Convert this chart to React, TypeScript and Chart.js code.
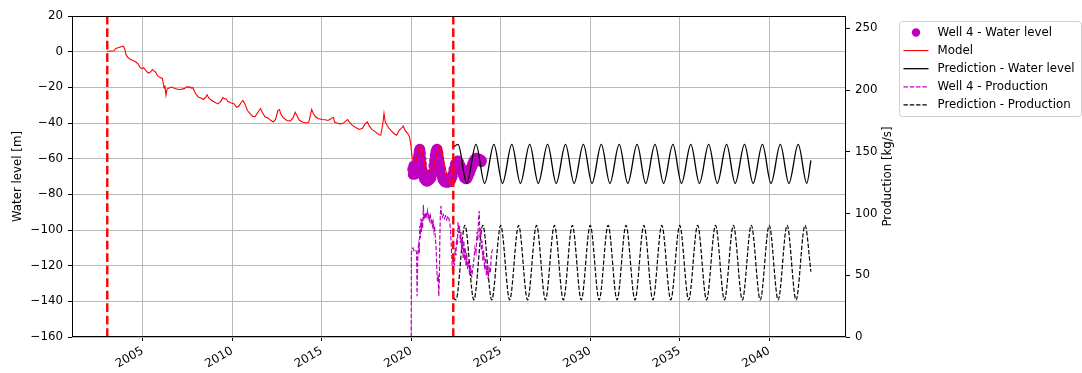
import React, { useEffect, useRef } from 'react';
import { Chart, registerables } from 'chart.js';
Chart.register(...registerables);

// ---------- data ----------
const xTicks = [2005, 2010, 2015, 2020, 2025, 2030, 2035, 2040];
const leftTicks = [-160, -140, -120, -100, -80, -60, -40, -20, 0, 20];
const rightTicks = [0, 50, 100, 150, 200, 250];

// model water level (decimal year, m)
const modelX = [
  2003.00, 2003.05, 2003.40, 2003.50, 2003.70, 2003.92, 2004.00, 2004.06, 2004.15, 2004.30,
  2004.45, 2004.62, 2004.75, 2004.85, 2004.95, 2005.05, 2005.15, 2005.30, 2005.42, 2005.55,
  2005.62, 2005.72, 2005.82, 2005.95, 2006.10, 2006.16, 2006.20, 2006.24, 2006.30, 2006.36,
  2006.45, 2006.60, 2006.80, 2007.00, 2007.20, 2007.35, 2007.48, 2007.55, 2007.62, 2007.72,
  2007.80, 2007.95, 2008.10, 2008.25, 2008.40, 2008.52, 2008.60, 2008.68, 2008.80, 2009.00,
  2009.20, 2009.35, 2009.48, 2009.56, 2009.65, 2009.75, 2009.95, 2010.10, 2010.25, 2010.38,
  2010.50, 2010.60, 2010.70, 2010.85, 2011.00, 2011.15, 2011.28, 2011.40, 2011.58, 2011.68,
  2011.83, 2012.00, 2012.15, 2012.30, 2012.42, 2012.55, 2012.64, 2012.72, 2012.85, 2013.05,
  2013.25, 2013.40, 2013.52, 2013.60, 2013.75, 2013.95, 2014.10, 2014.28, 2014.38, 2014.44,
  2014.52, 2014.65, 2014.80, 2015.00, 2015.20, 2015.35, 2015.50, 2015.60, 2015.66, 2015.72,
  2015.85, 2016.05, 2016.20, 2016.35, 2016.45, 2016.55, 2016.70, 2016.90, 2017.10, 2017.28,
  2017.42, 2017.55, 2017.65, 2017.80, 2018.00, 2018.20, 2018.30, 2018.42, 2018.48, 2018.55,
  2018.70, 2018.85, 2019.05, 2019.19, 2019.30, 2019.40, 2019.56, 2019.65, 2019.80, 2019.90,
  2019.97, 2020.05, 2020.12, 2020.21, 2020.30, 2020.38, 2020.45, 2020.53, 2020.60, 2020.68,
  2020.76, 2020.83, 2020.95, 2021.05, 2021.15, 2021.23, 2021.35, 2021.46, 2021.61, 2021.70,
  2021.79, 2021.90, 2021.98, 2022.08, 2022.17, 2022.26, 2022.35,
];
const modelY = [
  0, 0.2, 0.5, 1.8, 2.5, 3.1, 1.5, -1.5, -3.0, -4.3,
  -5.0, -5.8, -7.0, -8.8, -9.5, -9.0, -10.2, -12.0, -11.5, -10.0,
  -10.8, -11.4, -13.5, -14.4, -15.0, -18.5, -20.5, -19.0, -24.4, -21.0,
  -20.5, -19.8, -20.6, -21.2, -21.0, -20.6, -19.5, -20.2, -19.6, -20.4,
  -20.2, -23.5, -25.4, -26.0, -26.8, -25.5, -24.2, -25.8, -27.0, -28.2,
  -29.3, -28.0, -25.8, -26.5, -26.3, -27.8, -28.8, -29.2, -31.2, -30.5,
  -28.5, -27.3, -29.0, -33.0, -34.8, -36.3, -36.5, -34.5, -31.9, -34.0,
  -36.5, -37.2, -38.5, -39.4, -38.0, -33.0, -32.5, -35.0, -37.0, -38.6,
  -38.8, -37.0, -34.0, -35.5, -38.5, -39.6, -40.0, -39.5, -35.0, -32.4,
  -34.5, -36.5, -37.5, -38.0, -38.2, -38.6, -37.8, -37.0, -36.9, -39.5,
  -40.0, -40.5, -40.2, -38.8, -38.0, -39.5, -41.2, -42.5, -43.6, -43.0,
  -40.5, -39.4, -41.5, -43.6, -45.0, -46.6, -46.8, -40.0, -34.6, -39.5,
  -42.1, -44.0, -46.0, -46.8, -44.5, -43.5, -41.7, -44.0, -45.8, -47.5,
  -51.5, -59.0, -61.0, -61.6, -60.5, -56.5, -54.1, -53.1, -55.5, -59.7,
  -64.0, -66.2, -67.0, -67.2, -66.5, -65.3, -60.5, -56.0, -53.1, -55.0,
  -59.7, -65.0, -69.0, -72.0, -73.7, -72.8, -72.0,
];

// observed water level, well 4
const wellLevelX = [
  2020.06, 2020.09, 2020.12, 2020.15, 2020.18, 2020.21, 2020.24, 2020.27, 2020.30, 2020.33,
  2020.36, 2020.39, 2020.42, 2020.45, 2020.48, 2020.51, 2020.54, 2020.57, 2020.60, 2020.63,
  2020.66, 2020.69, 2020.72, 2020.76, 2020.80, 2020.84, 2020.88, 2020.92, 2020.96, 2021.00,
  2021.04, 2021.08, 2021.12, 2021.16, 2021.20, 2021.24, 2021.28, 2021.32, 2021.36, 2021.40,
  2021.44, 2021.48, 2021.52, 2021.56, 2021.60, 2021.64, 2021.68, 2021.72, 2021.76, 2021.80,
  2021.84, 2021.88, 2021.92, 2021.96, 2022.00, 2022.04, 2022.08, 2022.12, 2022.16, 2022.20,
  2022.24, 2022.28, 2022.32, 2022.36, 2022.40, 2022.44, 2022.48, 2022.52, 2022.56, 2022.60,
  2022.64, 2022.68, 2022.72, 2022.76, 2022.80, 2022.84, 2022.88, 2022.92, 2022.96, 2023.00,
  2023.04, 2023.08, 2023.12, 2023.16, 2023.20, 2023.24, 2023.28, 2023.32, 2023.36, 2023.40,
  2023.44, 2023.48, 2023.52, 2023.56, 2023.60, 2023.64, 2023.68, 2023.72, 2023.76, 2023.80,
  2023.84, 2023.88, 2023.92, 2023.95,
];
const wellLevelY = [
  -66, -69, -64, -68, -66, -69, -65, -68, -64, -62,
  -60, -58, -56, -55, -54.5, -55, -57, -60, -63, -66,
  -68, -70, -71.5, -70, -72.5, -71, -73, -71.5, -72.5, -71,
  -72, -70, -71, -68, -68.5, -64, -61, -58, -56, -55,
  -54.5, -55, -57, -60, -63, -66, -69, -70.5, -72, -71,
  -73, -71.5, -73.5, -72, -73.5, -72, -73.5, -71.5, -73, -71,
  -72, -69, -70, -66, -67, -63, -65, -62, -64, -61,
  -63, -62, -65, -64, -67, -66, -69, -68, -71, -70,
  -71.5, -70.5, -71.5, -69.5, -70, -67, -68, -65, -66, -63,
  -64, -61, -62, -60, -61, -59.5, -60.5, -60, -61, -60,
  -61.5, -60.5, -62, -61,
];

// prediction water level
const predLevelX = [
  2022.35, 2022.62, 2023.10, 2023.62, 2024.10, 2024.62, 2025.10, 2025.62, 2026.10, 2026.62,
  2027.10, 2027.62, 2028.10, 2028.62, 2029.10, 2029.62, 2030.10, 2030.62, 2031.10, 2031.62,
  2032.10, 2032.62, 2033.10, 2033.62, 2034.10, 2034.62, 2035.10, 2035.62, 2036.10, 2036.62,
  2037.10, 2037.62, 2038.10, 2038.62, 2039.10, 2039.62, 2040.10, 2040.62, 2041.10, 2041.62,
  2042.10, 2042.33,
];
const predLevelY = [
  -53.5, -52, -73.8, -52, -73.8, -52, -73.8, -52, -73.8, -52,
  -73.8, -52, -73.8, -52, -73.8, -52, -73.8, -52, -73.8, -52,
  -73.8, -52, -73.8, -52, -73.8, -52, -73.8, -52, -73.8, -52,
  -73.8, -52, -73.8, -52, -73.8, -52, -73.8, -52, -73.8, -52,
  -73.8, -61,
];

// observed production, well 4 (kg/s)
const wellProdX = [
  2020.00, 2020.01, 2020.05, 2020.10, 2020.15, 2020.20, 2020.26, 2020.30, 2020.33, 2020.36,
  2020.39, 2020.42, 2020.45, 2020.48, 2020.51, 2020.54, 2020.57, 2020.60, 2020.64, 2020.68,
  2020.71, 2020.75, 2020.79, 2020.83, 2020.87, 2020.91, 2020.95, 2020.99, 2021.03, 2021.07,
  2021.11, 2021.15, 2021.19, 2021.23, 2021.27, 2021.31, 2021.35, 2021.39, 2021.43, 2021.47,
  2021.51, 2021.54, 2021.57, 2021.60, 2021.63, 2021.66, 2021.70, 2021.75, 2021.80, 2021.86,
  2021.92, 2021.98, 2022.04, 2022.10, 2022.16, 2022.20, 2022.25, 2022.30, 2022.35, 2022.38,
  2022.42, 2022.46, 2022.50, 2022.54, 2022.58, 2022.62, 2022.66, 2022.70, 2022.74, 2022.78,
  2022.82, 2022.86, 2022.90, 2022.94, 2022.98, 2023.02, 2023.06, 2023.10, 2023.14, 2023.20,
  2023.26, 2023.32, 2023.38, 2023.44, 2023.50, 2023.56, 2023.62, 2023.68, 2023.72, 2023.76,
  2023.80, 2023.84, 2023.88, 2023.92, 2023.96, 2024.00, 2024.05, 2024.10, 2024.15, 2024.20,
  2024.25, 2024.30, 2024.35, 2024.42, 2024.48, 2024.55,
];
const wellProdY = [
  0, 68, 71, 72, 70, 71, 70, 69, 33, 60,
  72, 75, 68, 90, 80, 96, 85, 95, 88, 107,
  95, 100, 96, 101, 98, 102, 97, 100, 95, 98,
  93, 96, 90, 93, 86, 90, 80, 72, 55, 45,
  50, 33, 45, 80, 100, 106, 99, 97, 99, 96,
  98, 95, 98, 96, 92, 86, 70, 55, 50, 62,
  58, 72, 66, 80, 75, 93, 84, 90, 76, 85,
  70, 80, 64, 78, 62, 72, 58, 68, 55, 62,
  50, 58, 48, 56, 62, 72, 68, 85, 78, 95,
  102, 80, 88, 70, 78, 62, 70, 55, 64, 50,
  58, 47, 56, 52, 68, 71,
];

// prediction production (kg/s)
const predProdX = [
  2022.35, 2022.50, 2023.00, 2023.50, 2024.00, 2024.50, 2025.00, 2025.50, 2026.00, 2026.50,
  2027.00, 2027.50, 2028.00, 2028.50, 2029.00, 2029.50, 2030.00, 2030.50, 2031.00, 2031.50,
  2032.00, 2032.50, 2033.00, 2033.50, 2034.00, 2034.50, 2035.00, 2035.50, 2036.00, 2036.50,
  2037.00, 2037.50, 2038.00, 2038.50, 2039.00, 2039.50, 2040.00, 2040.50, 2041.00, 2041.50,
  2042.00, 2042.33,
];
const predProdY = [
  32, 30, 90.5, 30, 90.5, 30, 90.5, 30, 90.5, 30,
  90.5, 30, 90.5, 30, 90.5, 30, 90.5, 30, 90.5, 30,
  90.5, 30, 90.5, 30, 90.5, 30, 90.5, 30, 90.5, 30,
  90.5, 30, 90.5, 30, 90.5, 30, 90.5, 30, 90.5, 30,
  90.5, 53,
];

// dashed red vertical markers (decimal year)
const markerYears = [2003.02, 2022.35];
const leftRange = [-160, 20];
const rightRange = [0, 260];
const xRange = [2001.05, 2044.29];

const leftTitle = 'Water level [m]';
const rightTitle = 'Production [kg/s]';

const FONT = "'DejaVu Sans', 'Liberation Sans', sans-serif";
const FS = 11.8;
const MAG = '#bf00bf';

const pts = (xs: number[], ys: number[]) => xs.map((x, i) => ({ x, y: ys[i] }));
const fmt = (v: number) => (v < 0 ? '\u2212' + Math.abs(v) : String(v));

const framePlugin = {
  id: 'frame',
  afterDatasetsDraw(chart: any) {
    const { ctx, chartArea } = chart;
    const l = Math.round(chartArea.left) + 0.5;
    const t = Math.round(chartArea.top) + 0.5;
    const r = Math.round(chartArea.right) - 0.5;
    const b = Math.round(chartArea.bottom) - 0.5;
    ctx.save();
    ctx.strokeStyle = '#000';
    ctx.lineWidth = 1;
    ctx.strokeRect(l, t, r - l, b - t);
    ctx.restore();
  },
};

const extrasPlugin = {
  id: 'extras',
  afterDraw(chart: any) {
    const { ctx, chartArea } = chart;
    ctx.save();
    // right axis title
    ctx.font = `${FS}px ${FONT}`;
    ctx.fillStyle = '#000';
    ctx.textAlign = 'center';
    ctx.textBaseline = 'middle';
    ctx.translate(888, (chartArea.top + chartArea.bottom) / 2);
    ctx.rotate(-Math.PI / 2);
    ctx.fillText(rightTitle, 0, 0);
    ctx.restore();

    // legend
    const items = chart.data.datasets.filter((d: any) => d.label && !d.noLegend);
    const bx = 899.5, by = 21.5, bw = 182, bh = 95;
    ctx.save();
    ctx.fillStyle = 'rgba(255,255,255,0.8)';
    ctx.strokeStyle = '#d0d0d0';
    ctx.lineWidth = 1;
    ctx.beginPath();
    const rr = 3;
    ctx.moveTo(bx + rr, by);
    ctx.lineTo(bx + bw - rr, by);
    ctx.arcTo(bx + bw, by, bx + bw, by + rr, rr);
    ctx.lineTo(bx + bw, by + bh - rr);
    ctx.arcTo(bx + bw, by + bh, bx + bw - rr, by + bh, rr);
    ctx.lineTo(bx + rr, by + bh);
    ctx.arcTo(bx, by + bh, bx, by + bh - rr, rr);
    ctx.lineTo(bx, by + rr);
    ctx.arcTo(bx, by, bx + rr, by, rr);
    ctx.closePath();
    ctx.fill();
    ctx.stroke();
    items.forEach((d: any, i: number) => {
      const cy = 32.5 + i * 18.1;
      const x0 = 903.5, x1 = 928.5;
      if (d.type === 'scatter') {
        ctx.fillStyle = d.backgroundColor;
        ctx.beginPath();
        ctx.arc((x0 + x1) / 2, cy, 4.2, 0, Math.PI * 2);
        ctx.fill();
      } else {
        ctx.strokeStyle = d.borderColor;
        ctx.lineWidth = d.borderWidth;
        ctx.setLineDash(d.borderDash || []);
        ctx.beginPath();
        ctx.moveTo(x0, cy);
        ctx.lineTo(x1, cy);
        ctx.stroke();
        ctx.setLineDash([]);
      }
      ctx.fillStyle = '#000';
      ctx.font = `${FS}px ${FONT}`;
      ctx.textAlign = 'left';
      ctx.textBaseline = 'middle';
      ctx.fillText(d.label, 937.5, cy + 0.5);
    });
    ctx.restore();
  },
};

export default function App() {
  const ref = useRef<HTMLCanvasElement>(null);
  useEffect(() => {
    const canvas = ref.current;
    if (!canvas) return;
    Chart.defaults.font.family = FONT;
    Chart.defaults.font.size = FS;
    Chart.defaults.color = '#000';

    const vlines = markerYears.map((yr) => ({
      type: 'line',
      label: '',
      noLegend: true,
      data: [{ x: yr, y: leftRange[0] }, { x: yr, y: leftRange[1] }],
      borderColor: '#ff0000',
      borderWidth: 2.4,
      borderDash: [8.7, 3.8],
      pointRadius: 0,
      yAxisID: 'y',
      order: 0,
    }));

    const chart = new Chart(canvas, {
      type: 'line',
      data: {
        datasets: [
          {
            type: 'scatter',
            label: 'Well 4 - Water level',
            data: pts(wellLevelX, wellLevelY),
            backgroundColor: MAG,
            borderColor: MAG,
            borderWidth: 0,
            pointRadius: 5,
            yAxisID: 'y',
            order: 5,
          },
          {
            type: 'line',
            label: 'Model',
            data: pts(modelX, modelY),
            borderColor: '#ff0000',
            borderWidth: 1.1,
            pointRadius: 0,
            yAxisID: 'y',
            order: 4,
          },
          {
            type: 'line',
            label: 'Prediction - Water level',
            data: pts(predLevelX, predLevelY),
            borderColor: '#000000',
            borderWidth: 1.3,
            pointRadius: 0,
            cubicInterpolationMode: 'monotone',
            yAxisID: 'y',
            order: 3,
          },
          {
            type: 'line',
            label: 'Well 4 - Production',
            data: pts(wellProdX, wellProdY),
            borderColor: MAG,
            borderWidth: 1.2,
            borderDash: [4.4, 1.9],
            pointRadius: 0,
            yAxisID: 'y1',
            order: 1,
          },
          {
            type: 'line',
            label: 'Prediction - Production',
            data: pts(predProdX, predProdY),
            borderColor: '#000000',
            borderWidth: 1.2,
            borderDash: [4.4, 1.9],
            pointRadius: 0,
            cubicInterpolationMode: 'monotone',
            yAxisID: 'y1',
            order: 2,
          },
          ...vlines,
        ] as any,
      },
      options: {
        responsive: false,
        animation: false,
        events: [],
        layout: { padding: { top: 16, left: 0, right: 0, bottom: 0 } },
        plugins: { legend: { display: false }, tooltip: { enabled: false } },
        scales: {
          x: {
            type: 'linear',
            min: xRange[0],
            max: xRange[1],
            afterBuildTicks: (s: any) => { s.ticks = xTicks.map((v) => ({ value: v })); },
            afterFit: (s: any) => { s.height = 36; },
            ticks: {
              autoSkip: false,
              minRotation: 30,
              maxRotation: 30,
              padding: 3,
              color: '#000',
              callback: (v: any) => String(v),
            },
            grid: { color: '#b8b8b8', lineWidth: 1, tickColor: '#000', tickLength: 4 },
            border: { display: false },
          },
          y: {
            type: 'linear',
            position: 'left',
            min: leftRange[0],
            max: leftRange[1],
            afterBuildTicks: (s: any) => { s.ticks = leftTicks.map((v) => ({ value: v })); },
            afterFit: (s: any) => { s.width = 72; },
            ticks: { padding: 5, color: '#000', callback: (v: any) => fmt(Number(v)) },
            grid: { color: '#b8b8b8', lineWidth: 1, tickColor: '#000', tickLength: 4 },
            border: { display: false },
            title: { display: true, text: leftTitle, padding: { top: 11, bottom: 0 }, color: '#000' },
          },
          y1: {
            type: 'linear',
            position: 'right',
            min: rightRange[0],
            max: rightRange[1],
            afterBuildTicks: (s: any) => { s.ticks = rightTicks.map((v) => ({ value: v })); },
            afterFit: (s: any) => { s.width = 236; },
            ticks: { padding: 5, color: '#000', callback: (v: any) => fmt(Number(v)) },
            grid: { drawOnChartArea: false, tickColor: '#000', tickLength: 4 },
            border: { display: false },
          },
        },
      } as any,
      plugins: [framePlugin, extrasPlugin],
    });
    return () => chart.destroy();
  }, []);

  return (
    <div style={{ position: 'absolute', left: 0, top: 0, width: 1082, height: 373, background: '#fff' }}>
      <canvas ref={ref} width={1082} height={373} style={{ display: 'block', width: 1082, height: 373 }} />
    </div>
  );
}
